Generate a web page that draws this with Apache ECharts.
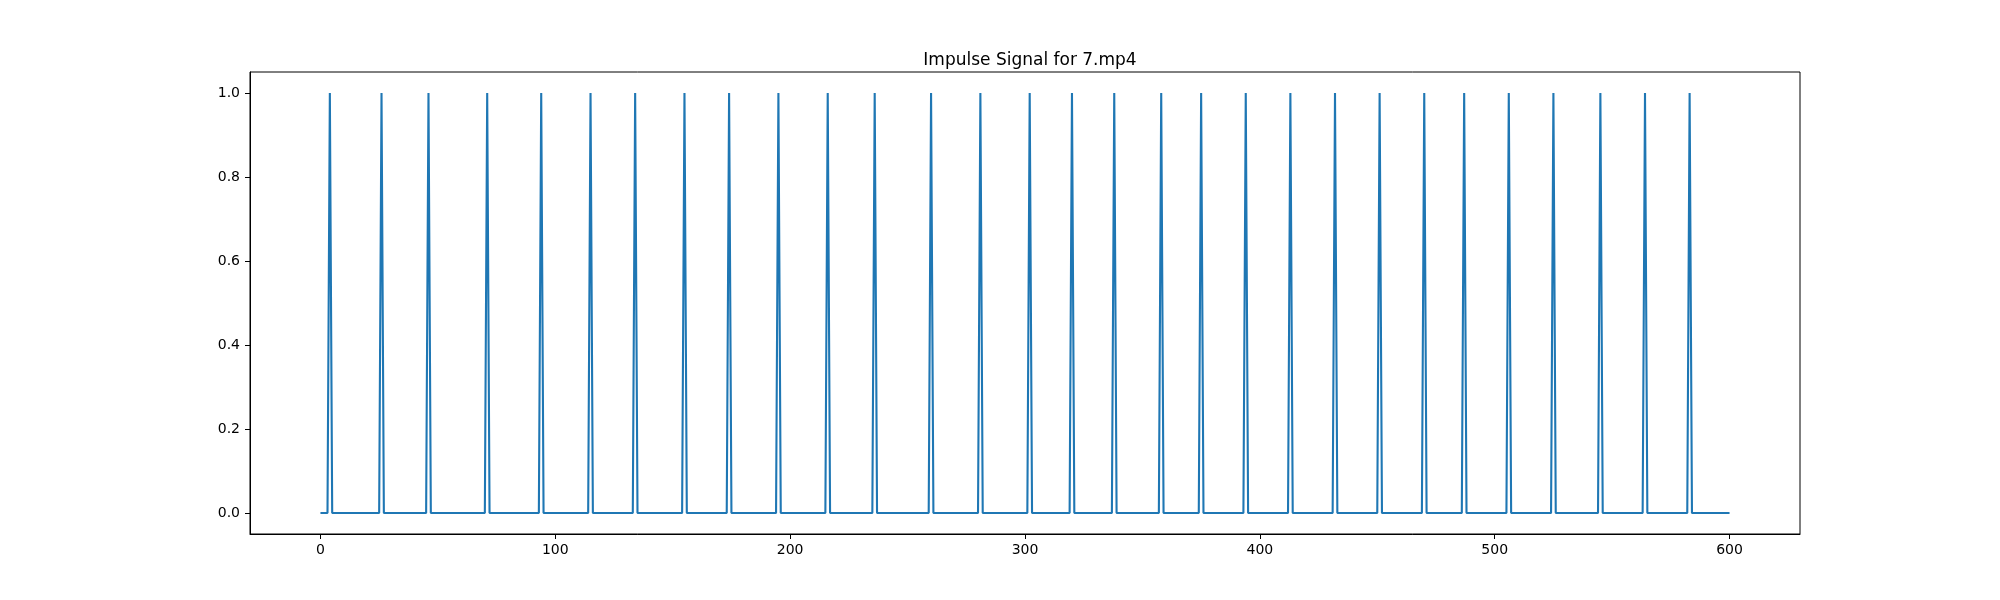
<!DOCTYPE html>
<html>
<head>
<meta charset="utf-8">
<script src="https://cdn.jsdelivr.net/npm/echarts@6/dist/echarts.min.js"></script>
<style>html,body{margin:0;padding:0;background:#fff}#c{width:2000px;height:600px}</style>
</head>
<body>
<div id="c"></div>
<script>
// Frame indices where an impulse (value 1) occurs; all other frames are 0
const peakFrames = [4,26,46,71,94,115,134,155,174,195,216,236,260,281,302,320,338,358,375,394,413,432,451,470,487,506,525,545,564,583];
const frameCount = 601; // frames 0..600
const xTicks = [0,100,200,300,400,500,600];
const yTicks = [0,0.2,0.4,0.6,0.8,1.0];
const titleText = 'Impulse Signal for 7.mp4';

const peakSet = new Set(peakFrames);
const signal = [];
for (let i = 0; i < frameCount; i++) signal.push([i, peakSet.has(i) ? 1 : 0]);

const font = 'DejaVu Sans';
const chart = echarts.init(document.getElementById('c'), null, {renderer: 'canvas'});
chart.setOption({
  animation: false,
  backgroundColor: '#ffffff',
  title: {
    text: titleText,
    left: 1025,
    textAlign: 'center',
    top: 47,
    textStyle: {fontFamily: font, fontSize: 17, fontWeight: 'normal', color: '#000'}
  },
  grid: {left: 250, right: 200, top: 72, bottom: 66, show: true, borderColor: '#000', borderWidth: 1, backgroundColor: 'transparent'},
  xAxis: {
    type: 'value', min: -30, max: 630,
    splitLine: {show: false},
    axisLine: {show: true, onZero: false, lineStyle: {color: '#000', width: 1}},
    axisTick: {show: true, length: 5, lineStyle: {color: '#000', width: 1}, customValues: xTicks},
    axisLabel: {customValues: xTicks, color: '#000', fontFamily: font, fontSize: 14, margin: 9, formatter: v => String(v)}
  },
  yAxis: {
    type: 'value', min: -0.05, max: 1.05,
    splitLine: {show: false},
    axisLine: {show: true, onZero: false, lineStyle: {color: '#000', width: 1}},
    axisTick: {show: true, length: 5, lineStyle: {color: '#000', width: 1}, customValues: yTicks},
    axisLabel: {customValues: yTicks, color: '#000', fontFamily: font, fontSize: 14, margin: 10, formatter: v => v.toFixed(1)}
  },
  series: [{
    type: 'line',
    data: signal,
    showSymbol: false,
    symbol: 'none',
    lineStyle: {color: '#1f77b4', width: 2.1},
    clip: true
  }]
});
</script>
</body>
</html>
